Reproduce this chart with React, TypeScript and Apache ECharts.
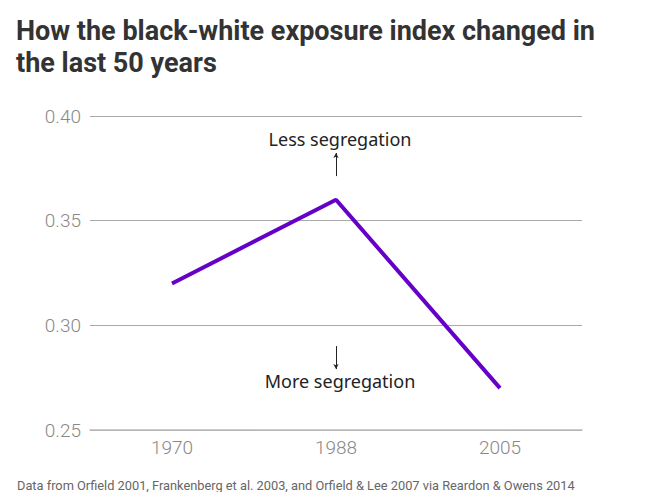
import React, { useEffect, useRef } from "react";
import * as echarts from "echarts";

const years = ["1970", "1988", "2005"];
const exposure = [0.32, 0.36, 0.27];
const yTicks = [0.25, 0.3, 0.35, 0.4];
const title = "How the black-white exposure index changed in\nthe last 50 years";
const source = "Data from Orfield 2001, Frankenberg et al. 2003, and Orfield & Lee 2007 via Reardon & Owens 2014";
const upArrow = [0.3713, 0.3823];
const downArrow = [0.2901, 0.2791];

export default function App() {
  const ref = useRef<HTMLDivElement>(null);
  useEffect(() => {
    if (!ref.current) return;
    const chart = echarts.init(ref.current, null, { renderer: "svg" });
    chart.setOption({
      animation: false,
      backgroundColor: "#ffffff",
      title: {
        text: title,
        left: 8,
        top: 7,
        padding: 0,
        textStyle: {
          fontFamily: "Roboto",
          fontWeight: "bold",
          fontSize: 27,
          lineHeight: 32,
          color: "#333333",
        },
      },
      grid: { left: 82, right: 64, top: 108, bottom: 62 },
      xAxis: {
        type: "category",
        data: years,
        boundaryGap: true,
        axisLine: { lineStyle: { color: "#bbbbbb", width: 1.5 } },
        axisTick: { alignWithLabel: true, inside: true, length: 7, lineStyle: { color: "#bbbbbb" } },
        axisLabel: { color: "#888888", fontSize: 19, fontFamily: "Roboto", fontWeight: 300, margin: 8 },
        splitLine: { show: false },
      },
      yAxis: {
        type: "value",
        min: yTicks[0],
        max: yTicks[yTicks.length - 1],
        interval: 0.05,
        axisLine: { show: false },
        axisTick: { show: false },
        axisLabel: {
          color: "#888888",
          fontSize: 19,
          fontFamily: "Roboto",
          fontWeight: 300,
          margin: 9,
          formatter: (v: number) => v.toFixed(2),
        },
        splitLine: { lineStyle: { color: "#aaaaaa", width: 1 } },
      },
      series: [
        {
          type: "line",
          data: exposure,
          symbol: "none",
          lineStyle: { color: "#6400c8", width: 4 },
          markLine: {
            silent: true,
            symbol: ["none", "arrow"],
            symbolSize: [4, 5],
            label: { show: false },
            lineStyle: { color: "#222222", width: 1, type: "solid" },
            data: [
              [
                { coord: [years[1], upArrow[0]] },
                { coord: [years[1], upArrow[1]] },
              ],
              [
                { coord: [years[1], downArrow[0]] },
                { coord: [years[1], downArrow[1]] },
              ],
            ],
          },
        },
      ],
      graphic: [
        {
          type: "text",
          x: 9,
          y: 477,
          style: {
            text: source,
            fontSize: 12.8,
            fontFamily: "Roboto",
            fill: "#666666",
            verticalAlign: "middle",
          },
        },
        {
          type: "text",
          x: 332,
          y: 131,
          style: {
            text: "Less segregation",
            fontSize: 18,
            fontFamily: "Noto Sans",
            fill: "#222222",
            align: "center",
            verticalAlign: "middle",
          },
        },
        {
          type: "text",
          x: 332,
          y: 373,
          style: {
            text: "More segregation",
            fontSize: 18,
            fontFamily: "Noto Sans",
            fill: "#222222",
            align: "center",
            verticalAlign: "middle",
          },
        },
      ],
    });
    return () => chart.dispose();
  }, []);
  return <div ref={ref} style={{ width: 638, height: 484 }} />;
}
